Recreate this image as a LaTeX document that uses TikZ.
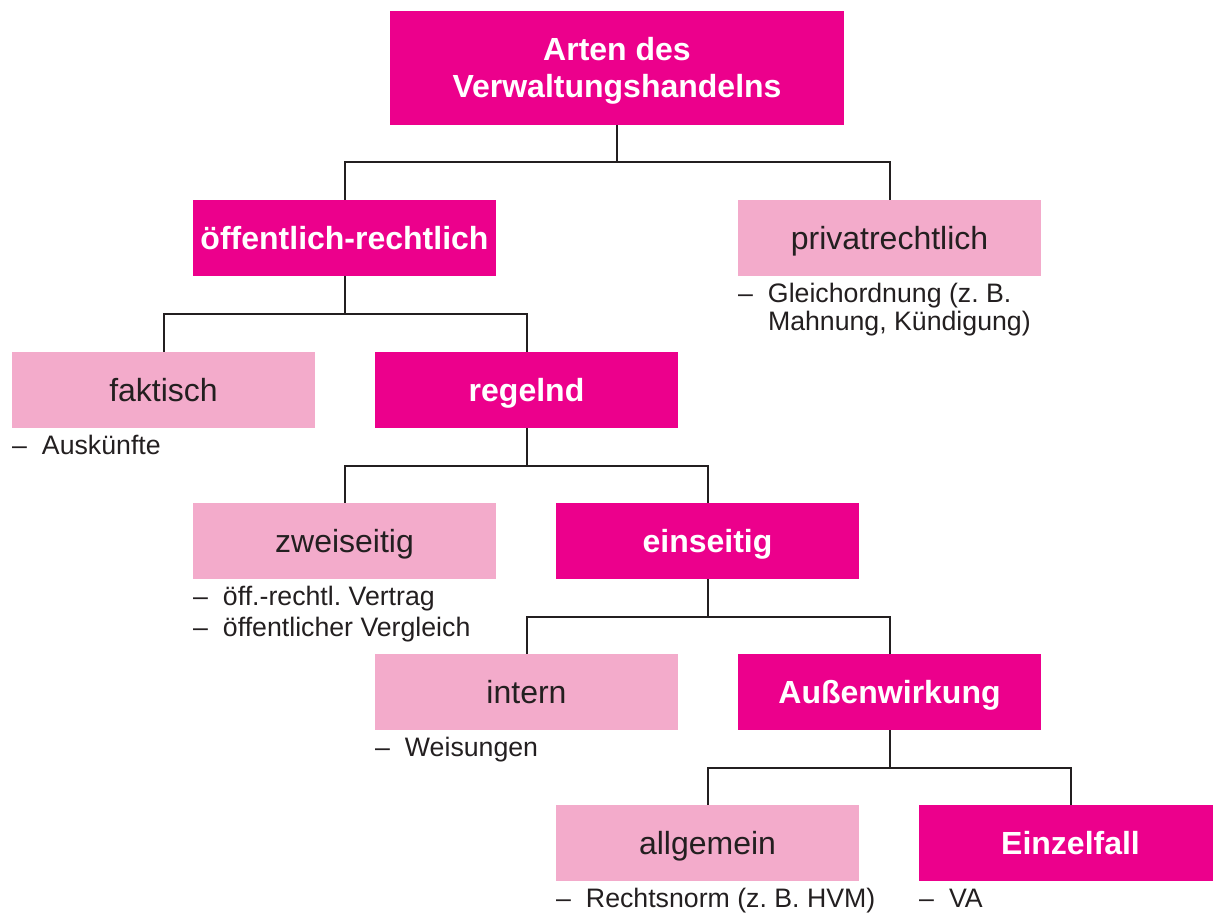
\documentclass[tikz,border=0pt]{standalone}
\usepackage{fontspec}
\setmainfont{Liberation Sans}
\frenchspacing
\definecolor{magDark}{HTML}{EC008C}
\definecolor{magLight}{HTML}{F3ABCB}
\definecolor{inkGray}{HTML}{231F20}
\newcommand{\itm}{\makebox[15pt][l]{–}}
\begin{document}
\begin{tikzpicture}[x=0.5pt,y=-0.5pt,
  box/.style={rectangle, inner sep=0pt, minimum width=151.5pt, minimum height=38pt,
    text height=11.46pt, text depth=0pt},
  darkbox/.style={box, fill=magDark, text=white, font=\fontsize{16pt}{18.5pt}\selectfont\bfseries},
  lightbox/.style={box, fill=magLight, text=inkGray, font=\fontsize{16pt}{18.5pt}\selectfont},
  titletext/.style={inner sep=0pt, anchor=base, text=white, font=\fontsize{16pt}{18.35pt}\selectfont\bfseries},
  listtext/.style={inner sep=0pt, anchor=base west, text=inkGray, font=\fontsize{13.35pt}{14.15pt}\selectfont},
  conn/.style={draw=inkGray, line width=1pt},
]
\useasboundingbox (0,0) rectangle (1213,915);

% boxes
\node[darkbox, minimum width=227pt, minimum height=57pt] (top) at (617,68) {};
\node[titletext] (topText) at (617,61) {\begin{tabular}[t]{@{}c@{}}Arten des\\Verwaltungshandelns\end{tabular}};

\node[darkbox]  (oeff)    at (344.5,238)  {öffentlich-rechtlich};
\node[lightbox] (privat)  at (889.5,238)  {privatrechtlich};
\node[lightbox] (fakt)    at (163.5,390)  {faktisch};
\node[darkbox]  (regelnd) at (526.5,390)  {regelnd};
\node[lightbox] (zwei)    at (344.5,541)  {zweiseitig};
\node[darkbox]  (ein)     at (707.5,541)  {einseitig};
\node[lightbox] (intern)  at (526.5,692)  {intern};
\node[darkbox]  (aussen)  at (889.5,692)  {Außenwirkung};
\node[lightbox] (allg)    at (707.5,843)  {allgemein};
\node[darkbox]  (einzel)  at (1070.5,843) {Einzelfall};

% connectors
\draw[conn] (top.south) -- ++(0,37) -| (oeff.north);
\draw[conn] (top.south) -- ++(0,37) -| (privat.north);
\draw[conn] (oeff.south) -- ++(0,38) -| (fakt.north);
\draw[conn] (oeff.south) -- ++(0,38) -| (regelnd.north);
\draw[conn] (regelnd.south) -- ++(0,38) -| (zwei.north);
\draw[conn] (regelnd.south) -- ++(0,38) -| (ein.north);
\draw[conn] (ein.south) -- ++(0,38) -| (intern.north);
\draw[conn] (ein.south) -- ++(0,38) -| (aussen.north);
\draw[conn] (aussen.south) -- ++(0,38) -| (allg.north);
\draw[conn] (aussen.south) -- ++(0,38) -| (einzel.north);

% lists
\node[listtext] (privList) at ([yshift=-12.85pt]privat.south west)
  {\begin{tabular}[t]{@{}l@{}}\itm Gleichordnung (z. B.\\\hspace*{15pt}Mahnung, Kündigung)\end{tabular}};
\node[listtext] (faktList) at ([yshift=-12.85pt]fakt.south west)
  {\begin{tabular}[t]{@{}l@{}}\itm Auskünfte\end{tabular}};
\node[listtext] (zweiList) at ([yshift=-12.85pt]zwei.south west)
  {\begin{tabular}[t]{@{}l@{}}\itm öff.-rechtl. Vertrag\\[1.5pt]\itm öffentlicher Vergleich\end{tabular}};
\node[listtext] (internList) at ([yshift=-12.85pt]intern.south west)
  {\begin{tabular}[t]{@{}l@{}}\itm Weisungen\end{tabular}};
\node[listtext] (allgList) at ([yshift=-12.85pt]allg.south west)
  {\begin{tabular}[t]{@{}l@{}}\itm Rechtsnorm (z. B. HVM)\end{tabular}};
\node[listtext] (einzelList) at ([yshift=-12.85pt]einzel.south west)
  {\begin{tabular}[t]{@{}l@{}}\itm VA\end{tabular}};
\end{tikzpicture}
\end{document}
